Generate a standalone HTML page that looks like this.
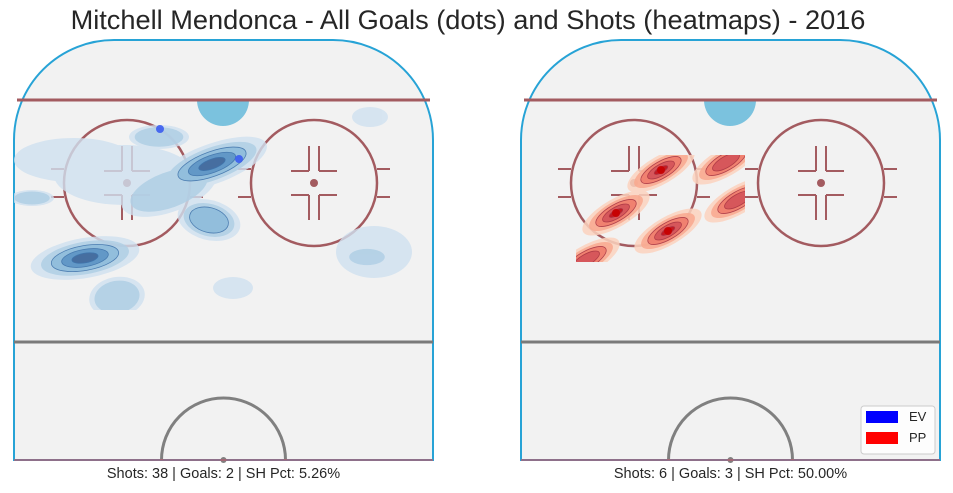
<!DOCTYPE html>
<html><head><meta charset="utf-8">
<style>
html,body{margin:0;padding:0;background:#fff;}
svg{display:block;font-family:"Liberation Sans",Arial,sans-serif;}
</style></head>
<body>
<svg id="chart" width="953" height="493" viewBox="0 0 953 493" xmlns="http://www.w3.org/2000/svg">
<defs>
<clipPath id="clipL"><rect x="14" y="100" width="419" height="210"/></clipPath>
<clipPath id="clipR"><rect x="576" y="155" width="169" height="107"/></clipPath>
</defs>
<text x="468" y="29" text-anchor="middle" font-size="27.2" fill="#262626">Mitchell Mendonca - All Goals (dots) and Shots (heatmaps) - 2016</text>
<g id="rinks"></g>
<g>
<rect x="861" y="406" width="74" height="48" rx="3" fill="#fff" fill-opacity="0.85" stroke="#ccc"/>
<rect x="866" y="411" width="32" height="12" fill="#0000ff"/>
<text x="909" y="421" font-size="13" fill="#262626">EV</text>
<rect x="866" y="432" width="32" height="12" fill="#ff0000"/>
<text x="909" y="442" font-size="13" fill="#262626">PP</text>
</g>
</svg>
<script>
const evGoalsX = [146, 225];
const evGoalsY = [89, 119];
const ppGoalsX = [140, 95, 147];
const ppGoalsY = [130, 173, 191];
const evBlobX = [71, 198, 195, 155, 110, 145, 18, 103, 219, 353, 360, 356, 60];
const evBlobY = [218, 124, 180, 150, 135, 97, 158, 257, 248, 217, 212, 77, 120];
const evBlobRX = [55, 58, 32, 50, 70, 30, 22, 28, 20, 22, 38, 18, 60];
const evBlobRY = [20, 20, 20, 22, 30, 12, 8, 20, 11, 10, 26, 10, 22];
const evBlobA = [-10, -20, 15, -20, 0, 0, 0, -10, 0, 0, 0, 0, 0];
const evBlobLvl = [5, 5, 3, 2, 1, 2, 2, 2, 1, 2, 1, 1, 1];
const ppBlobX = [140, 95, 147, 205, 217, 65];
const ppBlobY = [130, 173, 191, 122, 160, 220];
const ppBlobLvl = [5, 5, 5, 4, 4, 4];
const captions = ["Shots: 38 | Goals: 2 | SH Pct: 5.26%", "Shots: 6 | Goals: 3 | SH Pct: 50.00%"];
const rinkLeft = [14, 521];
const top0 = 40;

const NS = "http://www.w3.org/2000/svg";
const root = document.getElementById('rinks');
function mk(tag, attrs, parent){const e=document.createElementNS(NS,tag);for(const k in attrs)e.setAttribute(k,attrs[k]);(parent||root).appendChild(e);return e;}

function drawRink(i){
  const x0 = rinkLeft[i];
  const sx = v => x0 + v;
  const sy = v => top0 + v;
  const g = mk('g', {});
  
  
  const W=419, H=420, R=100;
  mk('path',{d:`M${sx(0)},${sy(H)} L${sx(0)},${sy(R)} A${R},${R} 0 0 1 ${sx(R)},${sy(0)} L${sx(W-R)},${sy(0)} A${R},${R} 0 0 1 ${sx(W)},${sy(R)} L${sx(W)},${sy(H)} Z`,fill:'#f2f2f2',stroke:'#27a3d6','stroke-width':2},g);
  mk('path',{d:`M${sx(183)},${sy(60)} A26,26 0 0 0 ${sx(235)},${sy(60)} Z`,fill:'#7bc2de'},g);
  mk('line',{x1:sx(3),y1:sy(60),x2:sx(W-3),y2:sy(60),stroke:'#a35b60','stroke-width':3},g);
  mk('line',{x1:sx(0),y1:sy(302),x2:sx(W),y2:sy(302),stroke:'#7a7a7a','stroke-width':3},g);
  mk('path',{d:`M${sx(147.5)},${sy(420)} A62,62 0 0 1 ${sx(271.5)},${sy(420)}`,fill:'none',stroke:'#808080','stroke-width':3},g);
  mk('circle',{cx:sx(209.5),cy:sy(420),r:3,fill:'#808080'},g);
  mk('line',{x1:sx(0),y1:sy(420),x2:sx(W),y2:sy(420),stroke:'#b06070','stroke-width':1.5},g);
  [113,300].forEach(cx=>{
    const c = mk('g',{},g);
    
    
    const st={stroke:'#a35b60','stroke-width':2.5,fill:'none'};
    mk('circle',Object.assign({cx:sx(cx),cy:sy(143),r:63},st),c);
    mk('circle',{cx:sx(cx),cy:sy(143),r:4,fill:'#a35b60'},c);
    const ln=(a,b,c2,d)=>mk('line',{x1:sx(a),y1:sy(b),x2:sx(c2),y2:sy(d),stroke:'#a35b60','stroke-width':2},c);
    [-1,1].forEach(s=>{
      ln(cx+s*5,106,cx+s*5,131); ln(cx+s*5,131,cx+s*23,131);
      ln(cx+s*5,180,cx+s*5,155); ln(cx+s*5,155,cx+s*23,155);
      ln(cx+s*63,129,cx+s*76,129); ln(cx+s*63,157,cx+s*76,157);
    });
  });
  const hm = mk('g',{'clip-path':i===0?'url(#clipL)':'url(#clipR)'},g);
  
  
  if(i===0){
    const cols=['#d0e1f0','#b0cfe5','#8cbbdb','#5a92c4','#42679a'];
    for(let lv=0;lv<5;lv++){
      const lg=mk('g',{opacity:lv===0?0.8:0.85},hm);
      evBlobX.forEach((bx,k)=>{
        if(evBlobLvl[k]<=lv)return;
        const f=1-lv*0.19;
        const e=mk('ellipse',{cx:sx(bx),cy:sy(evBlobY[k]),rx:evBlobRX[k]*f,ry:evBlobRY[k]*f,fill:cols[lv],stroke:lv>=2?'#3a6fa8':'none','stroke-width':0.8,transform:`rotate(${evBlobA[k]} ${sx(bx)} ${sy(evBlobY[k])})`},lg);
        
        
      });
    }
  } else {
    const cols=['#fcd3bf','#f9a98f','#ef7a6a','#d25058','#c0101a'];
    for(let lv=0;lv<5;lv++){
      const lg=mk('g',{opacity:0.85},hm);
      ppBlobX.forEach((bx,k)=>{
        if(ppBlobLvl[k]<=lv)return;
        const f=1-lv*0.2;
        const e=mk('ellipse',{cx:sx(bx),cy:sy(ppBlobY[k]),rx:38*f,ry:14*f,fill:cols[lv],stroke:lv>=2?'#a63040':'none','stroke-width':0.8,transform:`rotate(-30 ${sx(bx)} ${sy(ppBlobY[k])})`},lg);
        
        
      });
    }
  }
  const gx = i===0?evGoalsX:ppGoalsX, gy=i===0?evGoalsY:ppGoalsY;
  gx.forEach((v,k)=>{
    const d=mk('circle',{cx:sx(v),cy:sy(gy[k]),r:4,fill:i===0?'#3b5cf0':'#c80000','fill-opacity':0.9},g);
    
    
  });
  const t=mk('text',{x:sx(209.5),y:478,'text-anchor':'middle','font-size':14.5,fill:'#262626'},g);
  t.textContent=captions[i];
  
  
}
drawRink(0); drawRink(1);
</script>
</body></html>
